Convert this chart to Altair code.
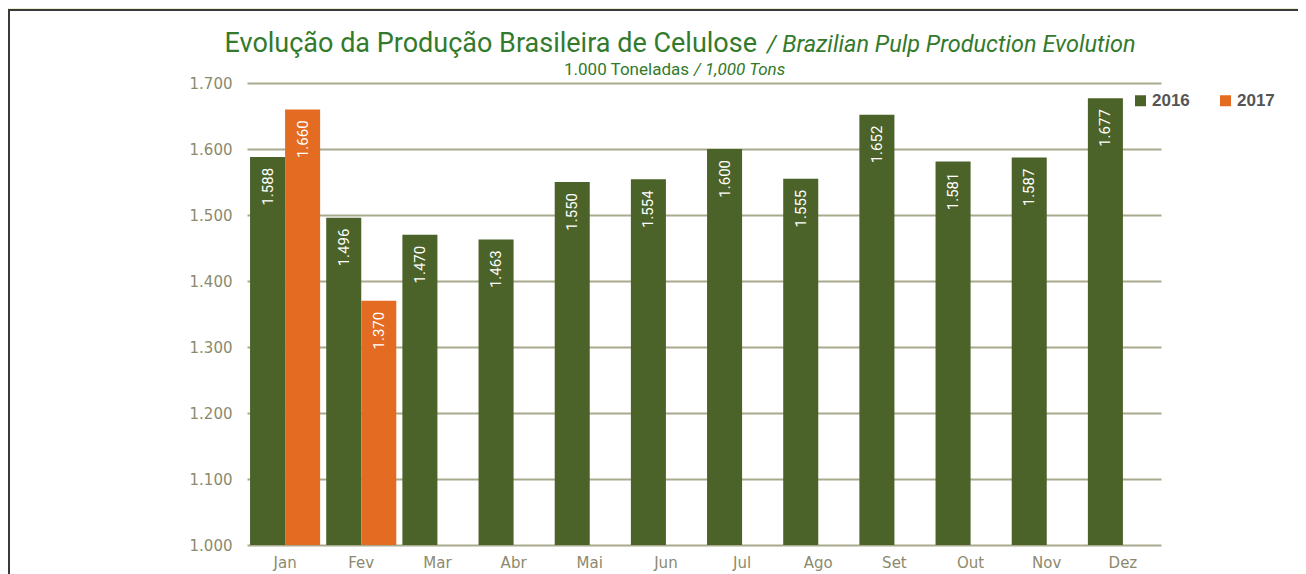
import altair as alt
import pandas as pd

months = ["Jan", "Fev", "Mar", "Abr", "Mai", "Jun", "Jul", "Ago", "Set", "Out", "Nov", "Dez"]
prod_2016 = [1588, 1496, 1470, 1463, 1550, 1554, 1600, 1555, 1652, 1581, 1587, 1677]
prod_2017 = [1660, 1370]
years = ["2016", "2017"]
y_ticks = [1000, 1100, 1200, 1300, 1400, 1500, 1600, 1700]

rows = []
for m, v in zip(months, prod_2016):
    rows.append({"mes": m, "ano": "2016", "valor": v})
for m, v in zip(months, prod_2017):
    rows.append({"mes": m, "ano": "2017", "valor": v})
df = pd.DataFrame(rows)

GREEN = "#4b6329"
ORANGE = "#e36c22"
TITLE = "#337a2c"
AXIS = "#8c8a6e"
GRID = "#a9a98d"
OUTER = "#e8edcb"

W, H = 914, 462

base = alt.Chart(df).transform_calculate(
    label="replace(format(datum.valor, ','), ',', '.')"
)

x_enc = alt.X("mes:N", sort=months, scale=alt.Scale(paddingInner=0.08, paddingOuter=0.04),
              axis=alt.Axis(title=None, domain=False, ticks=False, labelPadding=10,
                            labelFontSize=15, labelColor=AXIS, labelFont="DejaVu Sans",
                            labelAngle=0, grid=False))
xo_enc = alt.XOffset("ano:N", sort=years, scale=alt.Scale(paddingInner=0, paddingOuter=0))
y_scale = alt.Scale(domain=[1000, 1700], zero=False, nice=False)

bars = base.mark_bar().encode(
    x=x_enc,
    xOffset=xo_enc,
    y=alt.Y("valor:Q", scale=y_scale,
            axis=alt.Axis(title=None, values=y_ticks, domain=False, ticks=False,
                          labelExpr="replace(format(datum.value, ','), ',', '.')",
                          labelPadding=15, labelFontSize=15, labelColor=AXIS,
                          labelFont="DejaVu Sans", grid=True, gridColor=GRID,
                          gridWidth=2)),
    y2=alt.datum(1000),
    color=alt.Color("ano:N", sort=years,
                    scale=alt.Scale(domain=years, range=[GREEN, ORANGE]),
                    legend=alt.Legend(title=None, orient="none", direction="horizontal",
                                      legendX=885, legendY=9, symbolType="square",
                                      symbolSize=121, symbolStrokeWidth=0,
                                      labelFont="Liberation Sans", labelFontWeight="bold",
                                      labelFontSize=17, labelColor="#555555",
                                      labelOffset=3, columnPadding=27)),
)

labels = base.mark_text(angle=270, align="right", baseline="middle", dx=-11,
                        color="white", fontSize=15, font="Roboto").encode(
    x=alt.X("mes:N", sort=months),
    xOffset=alt.XOffset("ano:N", sort=years),
    y=alt.Y("valor:Q", scale=y_scale),
    text="label:N",
)

one = pd.DataFrame({"a": [0]})
strip_top = alt.Chart(one).mark_rect(fill=OUTER, clip=False).encode(
    x=alt.value(-260), x2=alt.value(1300), y=alt.value(-90), y2=alt.value(-74))
strip_left = alt.Chart(one).mark_rect(fill=OUTER, clip=False).encode(
    x=alt.value(-260), x2=alt.value(-239), y=alt.value(-90), y2=alt.value(700))
border = alt.Chart(one).mark_rect(fill="transparent", stroke="#3a3a3a", strokeWidth=2,
                                  clip=False).encode(
    x=alt.value(-238), x2=alt.value(1300), y=alt.value(-73), y2=alt.value(700))

TF = "Roboto"
t1 = alt.Chart(one).mark_text(text="Evolução da Produção Brasileira de Celulose",
                              align="right", baseline="alphabetic", fontSize=27,
                              font=TF, color=TITLE).encode(
    x=alt.value(510), y=alt.value(-31))
t2 = alt.Chart(one).mark_text(text="/ Brazilian Pulp Production Evolution",
                              align="left", baseline="alphabetic", fontSize=23.5,
                              fontStyle="italic", font=TF, color=TITLE).encode(
    x=alt.value(520), y=alt.value(-31))
s1 = alt.Chart(one).mark_text(text="1.000 Toneladas",
                              align="right", baseline="alphabetic", fontSize=17,
                              font=TF, color=TITLE).encode(
    x=alt.value(442), y=alt.value(-8))
s2 = alt.Chart(one).mark_text(text="/ 1,000 Tons",
                              align="left", baseline="alphabetic", fontSize=17,
                              fontStyle="italic", font=TF, color=TITLE).encode(
    x=alt.value(447), y=alt.value(-8))

chart = alt.layer(strip_top, strip_left, border, bars, labels, t1, t2, s1, s2).properties(
    width=W, height=H,
    autosize=alt.AutoSizeParams(type="none"),
    padding={"left": 239, "top": 75, "right": 137, "bottom": 30},
    background="white",
).configure_view(stroke=None).resolve_scale(color="independent")

chart.save("out.html", embed_options={"renderer": "svg", "actions": False})
